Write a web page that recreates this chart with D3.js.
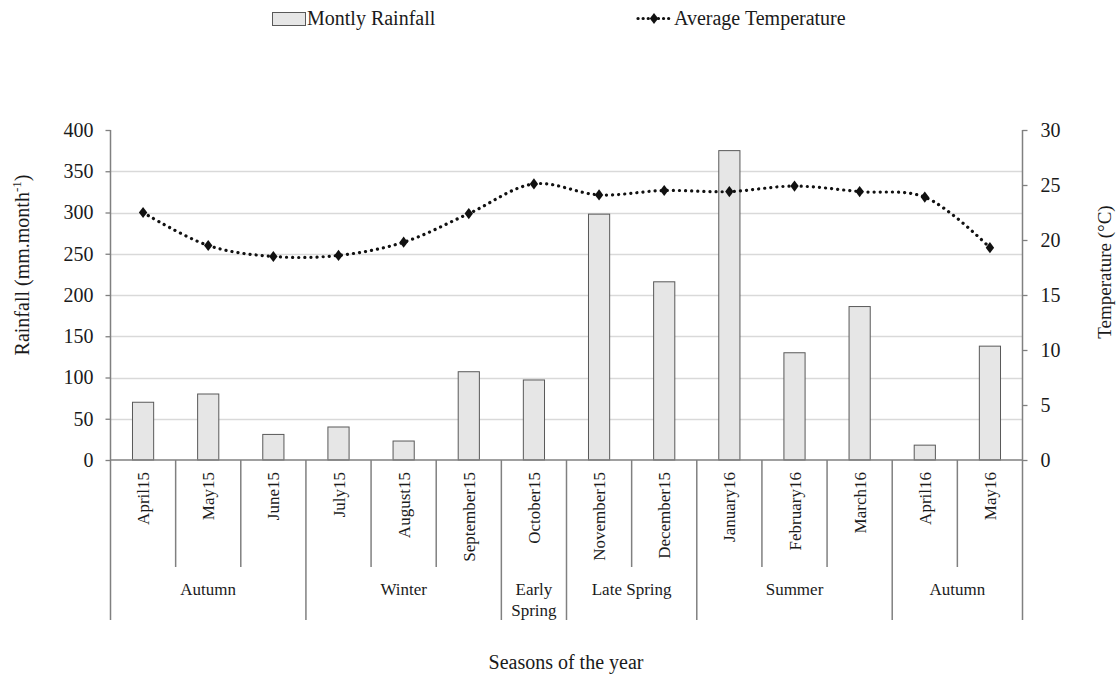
<!DOCTYPE html>
<html><head><meta charset="utf-8">
<script src="https://cdn.jsdelivr.net/npm/d3@7"></script>
<style>body{margin:0;background:#fff}svg{display:block}text{font-family:"Liberation Serif","Times New Roman",serif}</style>
</head><body><svg id="c" width="1120" height="675"></svg>
<script>
const months = ["April15","May15","June15","July15","August15","September15","October15","November15","December15","January16","February16","March16","April16","May16"];
const rainfall = [70,80,31,40,23,107,97,298,216,375,130,186,18,138];
const temperature = [22.5,19.5,18.5,18.6,19.8,22.4,25.1,24.1,24.5,24.4,24.9,24.4,23.9,19.3];
const seasons = [["Autumn"],["Winter"],["Early","Spring"],["Late Spring"],["Summer"],["Autumn"]];
const seasonSpans = [3,3,1,2,3,2];
const rainTicks = [0,50,100,150,200,250,300,350,400];
const tempTicks = [0,5,10,15,20,25,30];

const svg = d3.select("#c");
const L = 110.5, R = 1022.5, T = 130, B = 460;
const axisColor = "#808080";
const textColor = "#1a1a1a";
const x = d3.scaleBand().domain(months).range([L, R]).paddingInner(0.675).paddingOuter(0.3375);
const xc = d3.scaleBand().domain(months).range([L, R]);
const yL = d3.scaleLinear().domain([0,400]).range([B, T]);
const yR = d3.scaleLinear().domain([0,30]).range([B, T]);

// gridlines
svg.append("g").selectAll("line").data(rainTicks.filter(d => d > 0 && d < 400)).join("line")
  .attr("x1", L).attr("x2", R).attr("y1", d => Math.round(yL(d)) + 0.5).attr("y2", d => Math.round(yL(d)) + 0.5)
  .attr("stroke", "#d9d9d9").attr("stroke-width", 1.3);

// bars
svg.append("g").selectAll("rect").data(months).join("rect")
  .attr("x", d => x(d)).attr("width", x.bandwidth())
  .attr("y", (d,i) => yL(rainfall[i])).attr("height", (d,i) => B - yL(rainfall[i]))
  .attr("fill", "#e6e6e6").attr("stroke", "#595959").attr("stroke-width", 1);

// axes
const gl = svg.append("g").attr("transform", `translate(${L},0)`)
  .call(d3.axisLeft(yL).tickValues(rainTicks).tickSize(5).tickPadding(12));
const gr = svg.append("g").attr("transform", `translate(${R},0)`)
  .call(d3.axisRight(yR).tickValues(tempTicks).tickSize(5).tickPadding(13));
[gl, gr].forEach(g => {
  g.attr("font-family", null).attr("font-size", null);
  g.select(".domain").remove();
  g.selectAll("line").attr("stroke", axisColor).attr("stroke-width", 1.3);
  g.selectAll("text").attr("font-size", 20).attr("fill", textColor).attr("font-family", "Liberation Serif");
});
// axis lines
svg.append("line").attr("x1", L).attr("x2", L).attr("y1", T).attr("y2", 620).attr("stroke", axisColor).attr("stroke-width", 1.5);
svg.append("line").attr("x1", R).attr("x2", R).attr("y1", T).attr("y2", 620).attr("stroke", axisColor).attr("stroke-width", 1.5);
svg.append("line").attr("x1", L).attr("x2", R).attr("y1", B).attr("y2", B).attr("stroke", axisColor).attr("stroke-width", 1.5);

// category separators
const seasonBoundaries = new Set();
let acc = 0;
seasonSpans.forEach(s => { acc += s; seasonBoundaries.add(acc); });
const seps = d3.range(1, months.length);
svg.append("g").selectAll("line").data(seps).join("line")
  .attr("x1", i => xc(months[i])).attr("x2", i => xc(months[i]))
  .attr("y1", B).attr("y2", i => seasonBoundaries.has(i) ? 620 : 567)
  .attr("stroke", axisColor).attr("stroke-width", 1.5);

// month labels
svg.append("g").selectAll("text").data(months).join("text")
  .attr("transform", d => `translate(${xc(d) + xc.bandwidth()/2 + 6},472) rotate(-90)`)
  .attr("text-anchor", "end").attr("font-size", 17).attr("fill", textColor).text(d => d);

// season labels
let start = 0;
seasons.forEach((lines, k) => {
  const x0 = xc(months[start]);
  const x1 = xc(months[start + seasonSpans[k] - 1]) + xc.bandwidth();
  const t = svg.append("text").attr("text-anchor", "middle").attr("font-size", 17).attr("fill", textColor);
  lines.forEach((ln, j) => t.append("tspan").attr("x", (x0 + x1)/2).attr("y", 595 + j*21).text(ln));
  start += seasonSpans[k];
});

// temperature line
const line = d3.line().x((d,i) => xc(months[i]) + xc.bandwidth()/2).y(d => yR(d)).curve(d3.curveCatmullRom.alpha(0.5));
svg.append("path").datum(temperature).attr("d", line).attr("fill", "none")
  .attr("stroke", "#111").attr("stroke-width", 3.2).attr("stroke-linecap", "round").attr("stroke-dasharray", "0.1 6");
const diamond = d3.symbol().type(d3.symbolDiamond).size(36);
svg.append("g").selectAll("path").data(temperature).join("path")
  .attr("transform", (d,i) => `translate(${xc(months[i]) + xc.bandwidth()/2},${yR(d)}) scale(1.3,1)`)
  .attr("d", diamond).attr("fill", "#111");

// axis titles
svg.append("text").attr("transform", "translate(29,265) rotate(-90)").attr("text-anchor", "middle").attr("font-size", 20).attr("fill", textColor)
  .call(t => { t.append("tspan").text("Rainfall (mm.month"); t.append("tspan").attr("dy", -8).attr("font-size", 13).text("-1"); t.append("tspan").attr("dy", 8).text(")"); });
svg.append("text").attr("transform", "translate(1111,272) rotate(-90)").attr("text-anchor", "middle").attr("font-size", 19).attr("fill", textColor).text("Temperature (°C)");
svg.append("text").attr("x", 566).attr("y", 669).attr("text-anchor", "middle").attr("font-size", 20).attr("fill", textColor).text("Seasons of the year");

// legend
const lg = svg.append("g");
lg.append("rect").attr("x", 272.5).attr("y", 12.5).attr("width", 33).attr("height", 13).attr("fill", "#e6e6e6").attr("stroke", "#595959");
lg.append("text").attr("x", 307).attr("y", 25).attr("font-size", 20).attr("fill", textColor).text("Montly Rainfall");
lg.append("line").attr("x1", 638).attr("x2", 670).attr("y1", 18.5).attr("y2", 18.5).attr("stroke", "#111").attr("stroke-width", 3.2).attr("stroke-linecap", "round").attr("stroke-dasharray", "0.1 5");
lg.append("path").attr("transform", "translate(654,18.5) scale(1.3,1)").attr("d", diamond).attr("fill", "#111");
lg.append("text").attr("x", 674).attr("y", 25).attr("font-size", 20).attr("fill", textColor).text("Average Temperature");
</script></body></html>
